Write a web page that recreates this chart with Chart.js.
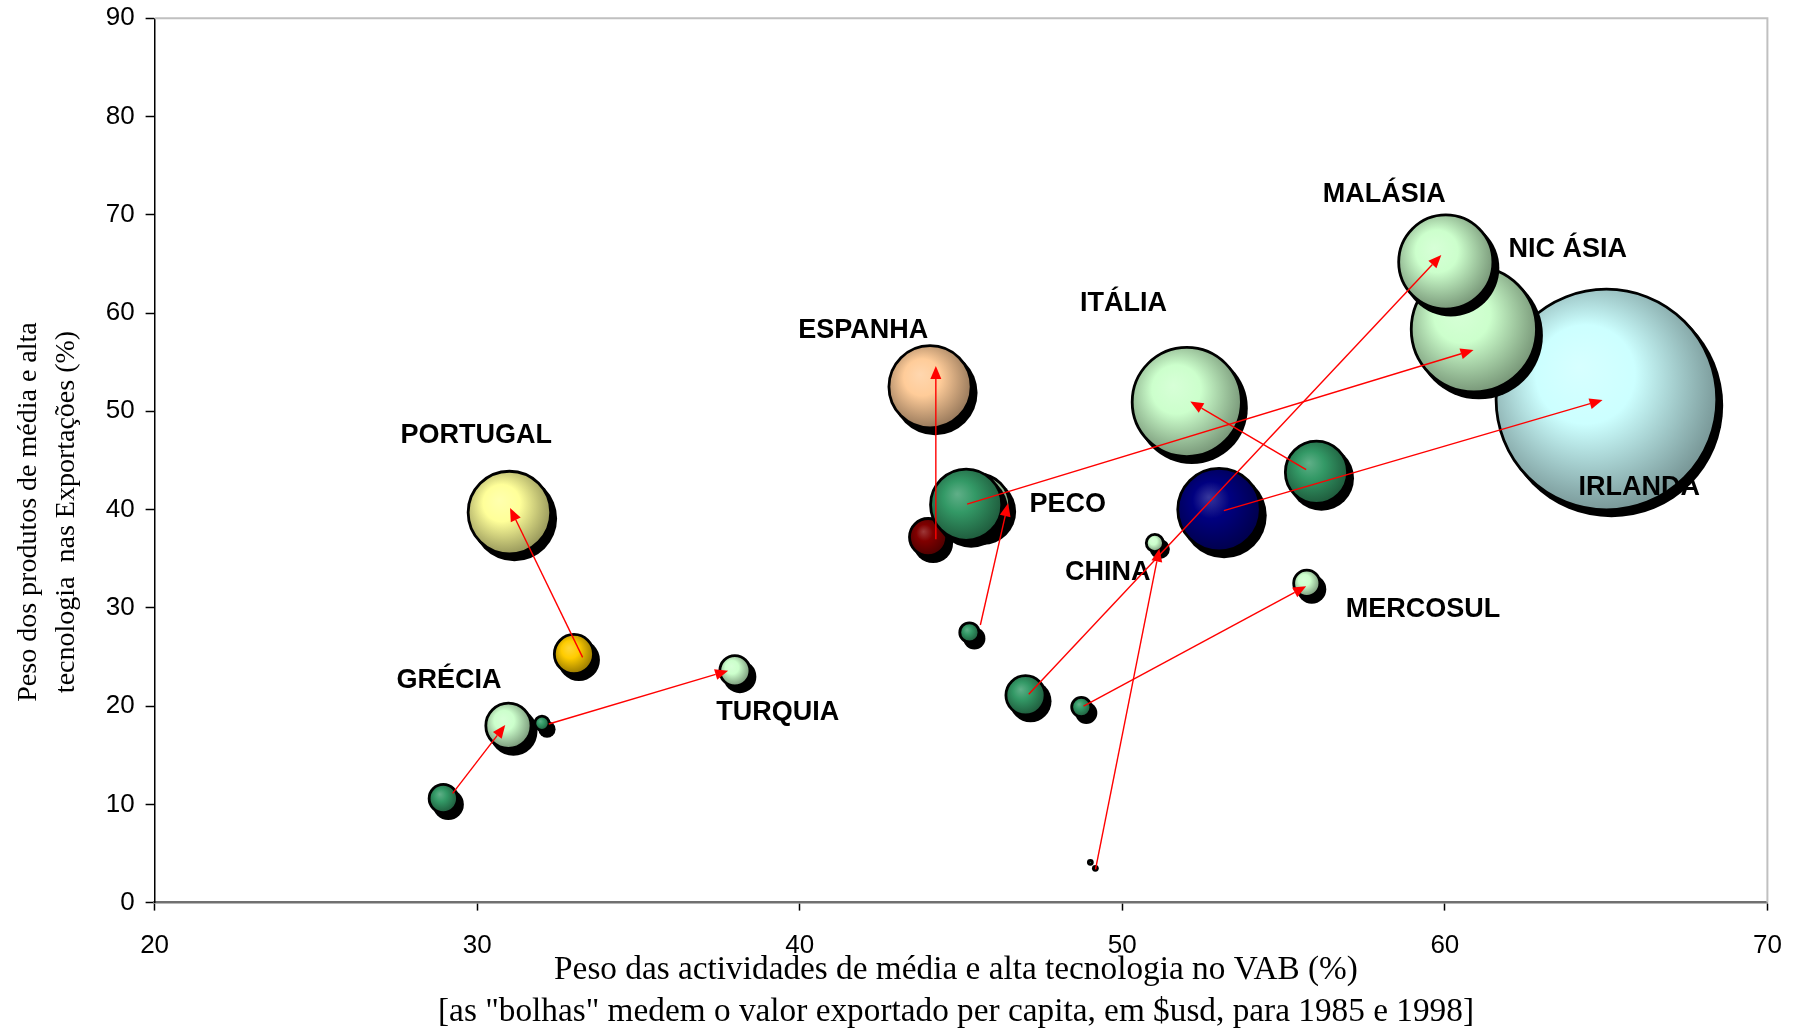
<!DOCTYPE html>
<html lang="pt">
<head>
<meta charset="utf-8">
<title>Tecnologia: VAB e exportações</title>
<script src="https://cdn.jsdelivr.net/npm/chart.js@4.4.1/dist/chart.umd.min.js"></script>
<style>
  html, body { margin: 0; padding: 0; background: #fff; }
  #grafico { display: block; }
</style>
</head>
<body>
<canvas id="grafico" width="1796" height="1031"></canvas>
<script>
// Regiões (mesma ordem em todas as listas)
const regioes = ['PORTUGAL', 'GRÉCIA', 'ESPANHA', 'IRLANDA', 'ITÁLIA', 'TURQUIA', 'PECO', 'NIC ÁSIA', 'MALÁSIA', 'CHINA', 'MERCOSUL'];

// 1985: peso no VAB (%), peso nas exportações (%), valor exportado per capita ($usd)
const vab1985 = [33.0, 28.95, 43.98, 53.0, 56.02, 32.01, 45.26, 45.16, 47.0, 49.01, 48.73];
const exp1985 = [25.3, 10.6, 37.2, 40.0, 43.8, 18.25, 27.5, 40.5, 21.1, 4.1, 19.9];
const valor1985 = [600, 330, 545, 2480, 1440, 100, 165, 1865, 600, 15, 165];

// 1998
const vab1998 = [31.0, 30.97, 44.04, 65.01, 52.0, 37.99, 45.53, 60.9, 60.03, 51.01, 55.72];
const exp1998 = [39.7, 18.0, 52.5, 51.2, 50.95, 23.6, 40.4, 58.35, 65.2, 36.6, 32.5];
const valor1998 = [2480, 785, 2460, 17000, 4270, 370, 1485, 5580, 3205, 136, 286];

// Setas 1985 -> 1998 (tal como desenhadas no original)
const setaDeX = [33.27, 29.24, 44.22, 53.15, 55.7, 32.22, 45.6, 45.19, 47.1, 49.17, 48.8];
const setaDeY = [24.96, 11.12, 36.97, 39.9, 44.06, 18.18, 28.25, 40.56, 21.2, 3.39, 20.0];
const setaAteX = [31.02, 30.87, 44.22, 64.89, 52.11, 37.78, 46.46, 60.89, 59.89, 51.15, 55.7];
const setaAteY = [40.15, 18.07, 54.6, 51.15, 51.0, 23.6, 40.64, 56.24, 65.9, 36.02, 32.2];

// Eixos
const ticksX = [20, 30, 40, 50, 60, 70];
const ticksY = [0, 10, 20, 30, 40, 50, 60, 70, 80, 90];

// Cores das bolhas
const cor1985 = ['#FFCC00', '#339966', '#800000', '#000080', '#339966', '#339966', '#339966', '#339966', '#339966', '#339966', '#339966'];
const cor1998 = ['#FFFF99', '#CCFFCC', '#FFCC99', '#CCFFFF', '#CCFFCC', '#CCFFCC', '#CCFFCC', '#CCFFCC', '#CCFFCC', '#CCFFCC', '#CCFFCC'];

// Posição dos nomes (em unidades dos eixos)
const nomeX = [29.97, 29.13, 41.97, 66.03, 50.04, 39.32, 48.31, 63.81, 58.12, 49.55, 59.32];
const nomeY = [47.8, 22.9, 58.5, 42.5, 61.2, 19.6, 40.8, 66.7, 72.3, 33.85, 30.1];

// raio em pixels a partir do valor exportado (área proporcional)
function raio(valor) {
    return Math.max(2, 0.857 * Math.sqrt(valor) - 1.4);
}

function hexParaRgb(h) {
    const n = parseInt(h.slice(1), 16);
    return [(n >> 16) & 255, (n >> 8) & 255, n & 255];
}
function misturar(rgb, alvo, t) {
    return 'rgb(' + rgb.map((v, i) => Math.round(v + (alvo[i] - v) * t)).join(',') + ')';
}

// gradiente "3D" das bolhas
function gradienteBolha(context, cor) {
    const raw = context.raw;
    const chart = context.chart;
    if (!raw || !chart.scales.x || !chart.scales.y) return cor;
    const px = chart.scales.x.getPixelForValue(raw.x);
    const py = chart.scales.y.getPixelForValue(raw.y);
    const r = raw.r;
    if (!isFinite(px) || !isFinite(py) || !isFinite(r)) return cor;
    const rgb = hexParaRgb(cor);
    const g = chart.ctx.createRadialGradient(px - 0.25 * r, py - 0.3 * r, 0, px - 0.1 * r, py - 0.12 * r, 1.12 * r);
    g.addColorStop(0, misturar(rgb, [255, 255, 255], 0.22));
    g.addColorStop(0.4, cor);
    g.addColorStop(1, misturar(rgb, [0, 0, 0], 0.4));
    return g;
}

// Montar os datasets: primeiro 1998, depois 1985 (cada bolha tem a sua sombra)
const bolhas = [];
regioes.forEach((nome, i) => bolhas.push({ nome: nome + ' 1998', x: vab1998[i], y: exp1998[i], v: valor1998[i], cor: cor1998[i] }));
regioes.forEach((nome, i) => bolhas.push({ nome: nome + ' 1985', x: vab1985[i], y: exp1985[i], v: valor1985[i], cor: cor1985[i] }));

const datasets = bolhas.map((b, k) => ({
    label: b.nome,
    data: [{ x: b.x, y: b.y, r: raio(b.v) }],
    backgroundColor: ctx => gradienteBolha(ctx, b.cor),
    borderColor: '#000000',
    borderWidth: 2.8,
    clip: false,
    order: -k
}));

// sombra preta desviada para baixo/direita, desenhada antes de cada bolha
const sombras = {
    id: 'sombras',
    beforeDatasetDraw(chart, args) {
        const c = chart.ctx;
        args.meta.data.forEach(el => {
            c.save();
            c.fillStyle = '#000000';
            c.beginPath();
            c.arc(el.x + 5, el.y + 6, el.options.radius + 1.4, 0, Math.PI * 2);
            c.fill();
            c.restore();
        });
    }
};

// moldura superior e direita da área do gráfico
const moldura = {
    id: 'moldura',
    beforeDatasetsDraw(chart) {
        const a = chart.chartArea, c = chart.ctx;
        c.save();
        c.strokeStyle = '#C0C0C0';
        c.lineWidth = 2;
        c.beginPath();
        c.moveTo(a.left, a.top);
        c.lineTo(a.right, a.top);
        c.lineTo(a.right, a.bottom);
        c.stroke();
        c.restore();
    }
};

// nomes das regiões e setas vermelhas
const anotacoes = {
    id: 'anotacoes',
    afterDatasetsDraw(chart) {
        const c = chart.ctx, sx = chart.scales.x, sy = chart.scales.y;
        c.save();
        c.fillStyle = '#000000';
        c.font = 'bold 27px "Liberation Sans", Arial, sans-serif';
        c.textAlign = 'center';
        c.textBaseline = 'middle';
        regioes.forEach((nome, i) => {
            c.fillText(nome, sx.getPixelForValue(nomeX[i]), sy.getPixelForValue(nomeY[i]) + 2.5);
        });

        c.strokeStyle = '#FF0000';
        c.fillStyle = '#FF0000';
        c.lineWidth = 1.4;
        regioes.forEach((nome, i) => {
            const x0 = sx.getPixelForValue(setaDeX[i]), y0 = sy.getPixelForValue(setaDeY[i]);
            const x1 = sx.getPixelForValue(setaAteX[i]), y1 = sy.getPixelForValue(setaAteY[i]);
            const ang = Math.atan2(y1 - y0, x1 - x0);
            const comp = 13, larg = 5.5;
            const bx = x1 - comp * Math.cos(ang), by = y1 - comp * Math.sin(ang);
            c.beginPath();
            c.moveTo(x0, y0);
            c.lineTo(bx, by);
            c.stroke();
            c.beginPath();
            c.moveTo(x1, y1);
            c.lineTo(bx + larg * Math.sin(ang), by - larg * Math.cos(ang));
            c.lineTo(bx - larg * Math.sin(ang), by + larg * Math.cos(ang));
            c.closePath();
            c.fill();
        });
        c.restore();
    }
};

// títulos dos eixos
const titulos = {
    id: 'titulos',
    afterDraw(chart) {
        const c = chart.ctx;
        c.save();
        c.fillStyle = '#000000';
        c.textAlign = 'center';
        c.textBaseline = 'middle';
        c.font = '33.3px "Liberation Serif", "Times New Roman", serif';
        c.fillText('Peso das actividades de média e alta tecnologia no VAB (%)', 956, 970);
        c.fillText('[as "bolhas" medem o valor exportado per capita, em $usd, para 1985 e 1998]', 956, 1012);
        c.font = '28px "Liberation Serif", "Times New Roman", serif';
        c.translate(28.6, 512);
        c.rotate(-Math.PI / 2);
        c.fillText('Peso dos produtos de média e alta', 0, 0);
        c.fillText('tecnologia  nas Exportações (%)', 0, 38);
        c.restore();
    }
};

document.addEventListener('DOMContentLoaded', function() {
    const ctx = document.getElementById('grafico').getContext('2d');
    const fonteTicks = { family: '"Liberation Sans", Arial, sans-serif', size: 26 };

    new Chart(ctx, {
        type: 'bubble',
        data: { datasets: datasets },
        options: {
            responsive: false,
            animation: false,
            events: [],
            layout: { autoPadding: false, padding: { top: 18.3, right: 28.6, left: 0, bottom: 0 } },
            plugins: {
                legend: { display: false },
                tooltip: { enabled: false }
            },
            scales: {
                x: {
                    type: 'linear',
                    min: ticksX[0],
                    max: ticksX[ticksX.length - 1],
                    afterBuildTicks: escala => { escala.ticks = ticksX.map(v => ({ value: v })); },
                    afterFit: escala => {
                        escala.height = 128.4;
                        escala.paddingLeft = 0;
                        escala.paddingRight = 0;
                    },
                    grid: { drawOnChartArea: false, drawTicks: true, tickLength: 8, tickColor: '#000000', tickWidth: 1.5 },
                    border: { display: true, color: '#707070', width: 2.5 },
                    ticks: { color: '#000000', font: fonteTicks, padding: 20, maxRotation: 0 }
                },
                y: {
                    type: 'linear',
                    min: ticksY[0],
                    max: ticksY[ticksY.length - 1],
                    afterBuildTicks: escala => { escala.ticks = ticksY.map(v => ({ value: v })); },
                    afterFit: escala => {
                        escala.width = 154.6;
                        escala.paddingTop = 0;
                        escala.paddingBottom = 0;
                    },
                    grid: { drawOnChartArea: false, drawTicks: true, tickLength: 9, tickColor: '#000000', tickWidth: 1.5 },
                    border: { display: true, color: '#000000', width: 1.5 },
                    ticks: { color: '#000000', font: fonteTicks, padding: 11 }
                }
            }
        },
        plugins: [moldura, sombras, anotacoes, titulos]
    });
});
</script>
</body>
</html>
